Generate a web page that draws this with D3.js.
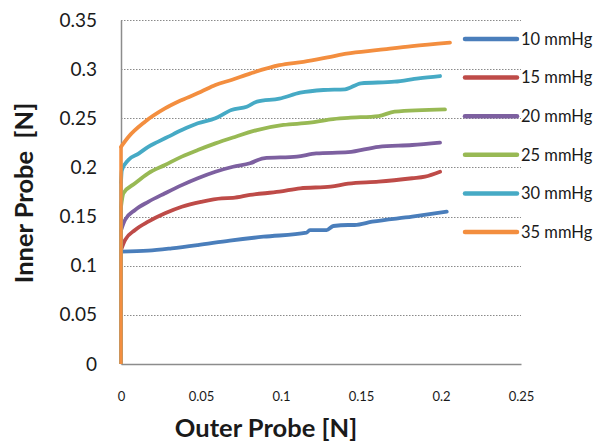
<!DOCTYPE html>
<html><head><meta charset="utf-8">
<script src="https://cdn.jsdelivr.net/npm/d3@7"></script>
<style>body{margin:0;background:#fff;} svg{display:block;}</style>
</head><body><svg id="c" width="598" height="441"></svg>
<script>
const seriesNames = ["10 mmHg","15 mmHg","20 mmHg","25 mmHg","30 mmHg","35 mmHg"];
const seriesColors = ["#4A7EBB","#BE4B48","#7D60A0","#98B954","#46AAC5","#F38E3F"];
const xTicks = [0,0.05,0.1,0.15,0.2,0.25];
const yTicks = [0,0.05,0.1,0.15,0.2,0.25,0.3,0.35];

const s10 = [[0,0],[0,0.1143],[0.017,0.1153],[0.0317,0.1177],[0.048,0.121],[0.068,0.1255],[0.089,0.1295],[0.116,0.1336],[0.118,0.1363],[0.1285,0.1363],[0.1327,0.1404],[0.142,0.1414],[0.146,0.1414],[0.157,0.1448],[0.182,0.1499],[0.2036,0.155]];
const s15 = [[0,0],[0,0.116],[0.0025,0.126],[0.0088,0.1363],[0.017,0.1448],[0.0275,0.1533],[0.038,0.16],[0.05,0.165],[0.063,0.1686],[0.07,0.169],[0.0806,0.172],[0.099,0.1753],[0.112,0.1788],[0.131,0.1804],[0.142,0.1835],[0.161,0.1855],[0.182,0.189],[0.19,0.1906],[0.1994,0.1956]];
const s20 = [[0,0],[0,0.136],[0.0025,0.1465],[0.0088,0.1567],[0.017,0.165],[0.0275,0.1737],[0.038,0.182],[0.048,0.189],[0.059,0.1956],[0.07,0.2007],[0.0806,0.2042],[0.089,0.2093],[0.11,0.211],[0.122,0.2143],[0.142,0.2155],[0.161,0.221],[0.182,0.2228],[0.1994,0.2252]];
const s25 = [[0,0],[0,0.16],[0.0015,0.1737],[0.0088,0.1838],[0.017,0.194],[0.0275,0.2025],[0.038,0.211],[0.048,0.2177],[0.059,0.2245],[0.07,0.2305],[0.085,0.238],[0.1015,0.2432],[0.118,0.2455],[0.131,0.249],[0.142,0.2505],[0.161,0.2523],[0.171,0.2567],[0.2025,0.259]];
const s30 = [[0,0],[0,0.185],[0.0005,0.197],[0.0046,0.2075],[0.011,0.214],[0.017,0.221],[0.023,0.226],[0.0296,0.2313],[0.038,0.238],[0.048,0.2449],[0.059,0.25],[0.069,0.2584],[0.0786,0.2618],[0.085,0.2669],[0.099,0.27],[0.112,0.276],[0.1265,0.2788],[0.14,0.2795],[0.15,0.2856],[0.171,0.2872],[0.186,0.2907],[0.1994,0.293]];
const s35 = [[0,0],[0,0.221],[0.0046,0.231],[0.015,0.2465],[0.0275,0.26],[0.038,0.2686],[0.05,0.277],[0.059,0.2838],[0.069,0.289],[0.081,0.2957],[0.099,0.304],[0.114,0.3075],[0.131,0.3126],[0.141,0.3157],[0.161,0.3195],[0.182,0.3235],[0.2056,0.327]];
const seriesData = [s10,s15,s20,s25,s30,s35];

const svg = d3.select("#c");
const x = d3.scaleLinear().domain([0,0.25]).range([121,521]);
const y = d3.scaleLinear().domain([0,0.35]).range([364,20]);

// gridlines
svg.append("g").selectAll("line").data(yTicks.filter(d=>d>0)).join("line")
  .attr("x1",x(0)).attr("x2",x(0.25)).attr("y1",d=>Math.round(y(d))+0.5).attr("y2",d=>Math.round(y(d))+0.5)
  .attr("stroke","#8a8a8a").attr("stroke-width",1).attr("stroke-dasharray","1.5,1.5");

// axes
const yAxis = d3.axisLeft(y).tickValues(yTicks).tickFormat(d=>d3.format("")(d)).tickSize(0).tickPadding(24);
const gy = svg.append("g").attr("transform",`translate(${x(0)},0)`).call(yAxis);
gy.select(".domain").attr("stroke","#8c8c8c").attr("stroke-width",1.5);
gy.selectAll("text").attr("font-family","Lato, 'Open Sans', sans-serif").attr("font-size",19).attr("fill","#1a1a1a");

const xAxis = d3.axisBottom(x).tickValues(xTicks).tickFormat(d=>d3.format("")(d)).tickSize(0).tickPadding(28);
const gx = svg.append("g").attr("transform",`translate(0,${y(0)})`).call(xAxis);
gx.select(".domain").attr("stroke","#8c8c8c").attr("stroke-width",1.5);
gx.selectAll("text").attr("font-family","Lato, 'Open Sans', sans-serif").attr("font-size",13).attr("fill","#1a1a1a");

// lines
const line = d3.line().x(d=>x(d[0])).y(d=>y(d[1])).curve(d3.curveMonotoneX);
const lineV = d3.line().x(d=>x(d[0])).y(d=>y(d[1]));
seriesData.forEach((s,i)=>{
  svg.append("path").datum(s.slice(0,2)).attr("d",lineV).attr("fill","none")
    .attr("stroke",seriesColors[i]).attr("stroke-width",3.5);
  svg.append("path").datum(s.slice(1)).attr("d",line).attr("fill","none")
    .attr("stroke",seriesColors[i]).attr("stroke-width",3.8).attr("stroke-linecap","round").attr("stroke-linejoin","round");
});

// legend
const lg = svg.append("g").selectAll("g").data(seriesNames).join("g")
  .attr("transform",(d,i)=>`translate(0,${39 + i*38.6})`);
lg.append("line").attr("x1",465).attr("x2",517).attr("y1",0).attr("y2",0)
  .attr("stroke",(d,i)=>seriesColors[i]).attr("stroke-width",4.5).attr("stroke-linecap","round");
lg.append("text").attr("x",521).attr("y",0).attr("dy","0.35em").text(d=>d)
  .attr("font-family","Lato, 'Open Sans', sans-serif").attr("font-size",16.5).attr("fill","#1a1a1a");

// titles
svg.append("text").attr("x",266).attr("y",437).attr("text-anchor","middle")
  .attr("font-family","Lato, 'Open Sans', sans-serif").attr("font-weight","bold").attr("font-size",25.5)
  .attr("fill","#1a1a1a").text("Outer Probe [N]");
svg.append("text").attr("transform","translate(33,193) rotate(-90)").attr("text-anchor","middle")
  .attr("font-family","Lato, 'Open Sans', sans-serif").attr("font-weight","bold").attr("font-size",25.5)
  .attr("fill","#1a1a1a").style("white-space","pre").text("Inner Probe  [N]");
</script></body></html>
